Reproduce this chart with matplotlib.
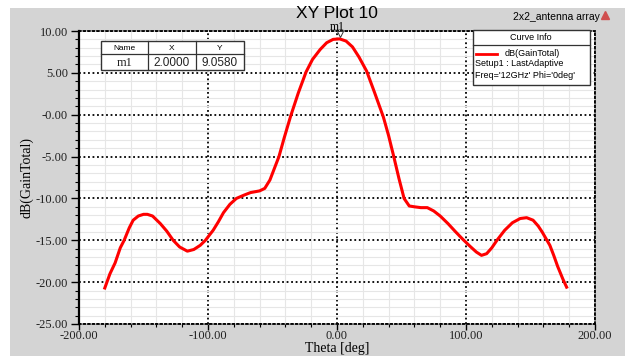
import numpy as np
import matplotlib
matplotlib.use("Agg")
import matplotlib.pyplot as plt
from matplotlib.patches import Rectangle
from matplotlib.lines import Line2D

# curve (theta in deg, gain in dB)
theta = [-180, -176, -172, -168, -165, -161, -158, -154, -150, -147, -143,
         -137, -132, -127, -122, -116, -111, -106, -102, -96, -92, -88, -83,
         -78, -72, -67, -60, -56, -52, -48, -45, -41, -36, -30, -24, -19, -13,
         -8, -3, 2, 7, 12, 17, 23, 29, 36, 40, 44, 48, 52, 56, 60, 65, 70, 75,
         80, 86, 92, 97, 103, 108, 112, 116, 120, 124, 130, 136, 142, 147,
         152, 156, 159, 162, 165, 168, 171, 175, 178]
gain = [-20.7, -19.0, -17.7, -15.9, -15.0, -13.5, -12.6, -12.1, -11.9, -11.9,
        -12.1, -13.0, -13.9, -15.0, -15.8, -16.3, -16.1, -15.6, -15.0, -13.8,
        -12.8, -11.7, -10.7, -10.0, -9.6, -9.3, -9.1, -8.8, -7.8, -6.2, -5.0,
        -2.8, -0.2, 2.6, 5.1, 6.6, 7.8, 8.6, 9.0, 9.06, 8.8, 8.1, 6.9, 5.2,
        2.7, -0.3, -2.5, -5.0, -7.6, -10.0, -10.9, -11.0, -11.1, -11.1, -11.5,
        -12.1, -13.0, -14.0, -14.8, -15.7, -16.4, -16.8, -16.6, -15.9, -15.0,
        -13.8, -12.9, -12.4, -12.3, -12.6, -13.3, -14.0, -14.8, -15.6, -16.8,
        -18.1, -19.6, -20.6]

x_ticks = [-200, -100, 0, 100, 200]
x_labels = ["-200.00", "-100.00", "0.00", "100.00", "200.00"]
y_ticks = [-25, -20, -15, -10, -5, 0, 5, 10]
y_labels = ["-25.00", "-20.00", "-15.00", "-10.00", "-5.00", "-0.00", "5.00", "10.00"]

marker_name = "m1"
marker_x = 2.0
marker_y = 9.058

W, H = 625, 356


def fx(px):
    return px / W


def fy(py):
    return 1 - py / H


fig = plt.figure(figsize=(6.25, 3.56), dpi=100, facecolor="#d4d4d4")
# white margin strips at top and left
fig.patches.append(Rectangle((0, fy(8)), 1, 1 - fy(8), transform=fig.transFigure,
                             facecolor="white", edgecolor="none", zorder=0))
fig.patches.append(Rectangle((0, 0), fx(10), 1, transform=fig.transFigure,
                             facecolor="white", edgecolor="none", zorder=0))

ax = fig.add_axes([fx(79), fy(324), fx(595) - fx(79), fy(31) - fy(324)])
ax.set_facecolor("white")
ax.set_xlim(-200, 200)
ax.set_ylim(-25, 10)

ax.set_xticks(x_ticks)
ax.set_xticklabels(x_labels)
ax.set_yticks(y_ticks)
ax.set_yticklabels(y_labels)
ax.set_xticks(np.arange(-200, 201, 20), minor=True)
ax.set_yticks(np.arange(-25, 11, 1), minor=True)

serif = "Liberation Serif"
for lab in ax.get_xticklabels() + ax.get_yticklabels():
    lab.set_fontfamily(serif)
    lab.set_fontsize(9)
    lab.set_color("#222222")
ax.tick_params(axis="y", which="major", direction="out", length=6, width=1.0, pad=2)
ax.tick_params(axis="y", which="minor", direction="out", length=3, width=0.8)
ax.tick_params(axis="x", which="major", direction="out", length=4, width=1.0, pad=0)
ax.tick_params(axis="x", which="minor", direction="out", length=2, width=0.8)
ax.tick_params(axis="x", which="both", top=False)
ax.tick_params(axis="y", which="both", right=False)

# grids: light minor, black dotted major
ax.grid(which="minor", color="#e6e6e6", linewidth=0.8, linestyle="-")
ax.grid(which="major", color="black", linewidth=1.3, linestyle=(0, (1, 1.5)))
ax.set_axisbelow(True)

ax.spines["left"].set_linewidth(1.6)
for side in ["top", "right", "bottom"]:
    ax.spines[side].set_linestyle((0, (1, 1.5)))
    ax.spines[side].set_linewidth(1.3)

ax.plot(theta, gain, color="red", linewidth=2.2, zorder=5)
ax.plot([marker_x], [marker_y + 0.55], marker="v", markersize=4,
        markerfacecolor="white", markeredgecolor="#333333", markeredgewidth=0.7,
        zorder=6, clip_on=False)

ax.set_xlabel("Theta [deg]", fontfamily=serif, fontsize=10, labelpad=0)
ax.set_ylabel("dB(GainTotal)", fontfamily=serif, fontsize=10, labelpad=0)
ax.xaxis.set_label_coords(0.5, -0.062)
ax.yaxis.set_label_coords(-0.089, 0.5)

# header texts
fig.text(fx(337), fy(14), "XY Plot 10", ha="center", va="center",
         fontfamily="Liberation Sans", fontsize=12.5)
fig.text(fx(337), fy(27.5), marker_name, ha="center", va="center",
         fontfamily=serif, fontsize=8.5)
fig.text(fx(556), fy(17), "2x2_antenna array", ha="center", va="center",
         fontfamily="Liberation Sans", fontsize=7.5)
fig.add_artist(Line2D([fx(605)], [fy(15)], marker="^", markersize=6,
                      color="#d05050", transform=fig.transFigure))

# marker table
tab_l, tab_r, tab_t, tab_b = 101, 244, 41, 70
fig.patches.append(Rectangle((fx(tab_l), fy(tab_b)), fx(tab_r) - fx(tab_l), fy(tab_t) - fy(tab_b),
                             transform=fig.transFigure, facecolor="white",
                             edgecolor="#333333", linewidth=1.0, zorder=10))
for px in [148, 196]:
    fig.add_artist(Line2D([fx(px), fx(px)], [fy(tab_t), fy(tab_b)], color="#333333",
                          linewidth=0.9, transform=fig.transFigure, zorder=11))
fig.add_artist(Line2D([fx(tab_l), fx(tab_r)], [fy(54), fy(54)], color="#333333",
                      linewidth=0.9, transform=fig.transFigure, zorder=11))
head = ["Name", "X", "Y"]
vals = [marker_name, f"{marker_x:.4f}", f"{marker_y:.4f}"]
centers = [124.5, 172, 220]
for cx, h, v in zip(centers, head, vals):
    fig.text(fx(cx), fy(48), h, ha="center", va="center", fontfamily="Liberation Sans",
             fontsize=6, zorder=12)
    fam = serif if v == marker_name else "Liberation Sans"
    fig.text(fx(cx), fy(62.5), v, ha="center", va="center", fontfamily=fam,
             fontsize=9 if fam == serif else 8.5, color="#222222", zorder=12)

# curve info box
box_l, box_r, box_t, box_b = 473, 590, 30, 85
fig.patches.append(Rectangle((fx(box_l), fy(box_b)), fx(box_r) - fx(box_l), fy(box_t) - fy(box_b),
                             transform=fig.transFigure, facecolor="white",
                             edgecolor="#333333", linewidth=1.0, zorder=10))
fig.add_artist(Line2D([fx(box_l), fx(box_r)], [fy(45), fy(45)], color="#333333",
                      linewidth=0.9, transform=fig.transFigure, zorder=11))
fig.text(fx(531), fy(38), "Curve Info", ha="center", va="center",
         fontfamily="Liberation Sans", fontsize=6.5, zorder=12)
fig.add_artist(Line2D([fx(476), fx(497)], [fy(53.5), fy(53.5)], color="red",
                      linewidth=2, transform=fig.transFigure, zorder=11))
fig.text(fx(505), fy(53.5), "dB(GainTotal)", ha="left", va="center",
         fontfamily="Liberation Sans", fontsize=6.5, zorder=12)
fig.text(fx(475), fy(64), "Setup1 : LastAdaptive", ha="left", va="center",
         fontfamily="Liberation Sans", fontsize=6.5, zorder=12)
fig.text(fx(475), fy(75), "Freq='12GHz' Phi='0deg'", ha="left", va="center",
         fontfamily="Liberation Sans", fontsize=6.5, zorder=12)

fig.savefig("out.png", dpi=100, facecolor=fig.get_facecolor())
